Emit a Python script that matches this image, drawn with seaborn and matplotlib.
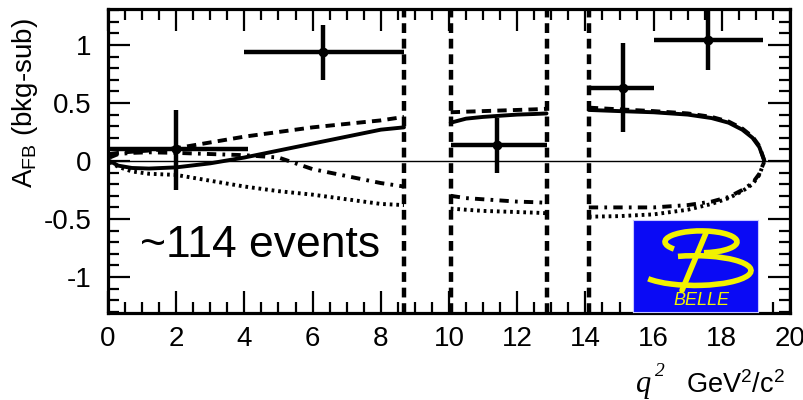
import numpy as np
import pandas as pd
import matplotlib
matplotlib.use('Agg')
import matplotlib.pyplot as plt
from matplotlib.patches import Arc
from matplotlib.ticker import MultipleLocator
import seaborn as sns

# ── data ──────────────────────────────────────────────────────
BIN_LO = [0.0, 4.0, 10.05, 14.1, 16.0]
BIN_HI = [4.1, 8.68, 12.86, 16.0, 19.2]
Q2_CENTER = [2.0, 6.3, 11.4, 15.1, 17.6]
AFB = [0.10, 0.94, 0.14, 0.63, 1.04]
ERR_UP = [0.34, 0.23, 0.23, 0.39, 0.41]
ERR_DN = [0.35, 0.24, 0.24, 0.38, 0.26]

VETO_EDGES = [8.68, 10.05, 12.86, 14.1]

Q_SEG1 = [0.05, 0.3, 0.7, 1.2, 2.0, 3.0, 4.0, 5.0, 6.0, 7.0, 8.0, 8.68]
Q_SEG2 = [10.05, 10.5, 11.0, 11.5, 12.0, 12.5, 12.86]
Q_SEG3 = [14.1, 15.0, 16.0, 17.0, 17.7, 18.2, 18.6, 18.9, 19.1, 19.25]

SM_1 = [0.0, -0.04, -0.06, -0.065, -0.055, -0.02, 0.03, 0.09, 0.15, 0.21, 0.27, 0.29]
SM_2 = [0.33, 0.365, 0.38, 0.39, 0.40, 0.405, 0.41]
SM_3 = [0.44, 0.43, 0.42, 0.40, 0.37, 0.33, 0.27, 0.20, 0.12, 0.0]

C7_1 = [0.06, 0.07, 0.08, 0.09, 0.11, 0.16, 0.21, 0.25, 0.29, 0.32, 0.35, 0.38]
C7_2 = [0.42, 0.425, 0.43, 0.435, 0.44, 0.445, 0.45]
C7_3 = [0.46, 0.445, 0.43, 0.41, 0.38, 0.34, 0.28, 0.21, 0.13, 0.0]

C9_1 = [0.03, 0.06, 0.07, 0.075, 0.07, 0.06, 0.05, 0.03, -0.07, -0.13, -0.19, -0.22]
C9_2 = [-0.30, -0.32, -0.33, -0.34, -0.35, -0.355, -0.36]
C9_3 = [-0.40, -0.40, -0.40, -0.38, -0.35, -0.31, -0.25, -0.19, -0.11, 0.0]

BOTH_1 = [-0.01, -0.05, -0.09, -0.11, -0.12, -0.17, -0.22, -0.26, -0.29, -0.33, -0.37, -0.38]
BOTH_2 = [-0.41, -0.42, -0.43, -0.435, -0.44, -0.445, -0.45]
BOTH_3 = [-0.48, -0.475, -0.46, -0.42, -0.37, -0.32, -0.26, -0.20, -0.12, 0.0]

MODELS = {
    'SM': (SM_1, SM_2, SM_3),
    'C7': (C7_1, C7_2, C7_3),
    'C9C10': (C9_1, C9_2, C9_3),
    'both': (BOTH_1, BOTH_2, BOTH_3),
}

rows = []
for name, segs in MODELS.items():
    for k, (qs, ys) in enumerate(zip((Q_SEG1, Q_SEG2, Q_SEG3), segs)):
        for q, y in zip(qs, ys):
            rows.append({'model': name, 'seg': k, 'q2': q, 'afb': y})
curves = pd.DataFrame(rows)

# ── plot ──────────────────────────────────────────────────────
sns.set_style('ticks')
plt.rcParams['font.family'] = ['Liberation Sans', 'DejaVu Sans']
plt.rcParams['mathtext.fontset'] = 'custom'
plt.rcParams['mathtext.rm'] = 'Liberation Sans'
for key in ['text.color', 'axes.labelcolor', 'xtick.color', 'ytick.color', 'axes.edgecolor']:
    plt.rcParams[key] = 'black'

fig = plt.figure(figsize=(8.04, 4.0), dpi=100)
ax = fig.add_axes([0.1343, 0.2175, 0.8483, 0.760])

dash_map = {'SM': '', 'C7': (2.4, 1.6), 'C9C10': (2.4, 1.6, 0.7, 1.6), 'both': (0.7, 1.0)}
sns.lineplot(data=curves, x='q2', y='afb', style='model', dashes=dash_map,
             units='seg', estimator=None, color='black', lw=2.8,
             legend=False, ax=ax, sort=False)

ax.axhline(0, color='black', lw=1.0, zorder=1)
for q in VETO_EDGES:
    ax.axvline(q, color='black', lw=3.2, dashes=(2.2, 1.3), zorder=3)

xerr = [np.subtract(Q2_CENTER, BIN_LO), np.subtract(BIN_HI, Q2_CENTER)]
ax.errorbar(Q2_CENTER, AFB, xerr=xerr, yerr=[ERR_DN, ERR_UP], fmt='o', color='black',
            ms=6, elinewidth=3.2, capsize=0, zorder=4)

ax.text(0.94, -0.83, '~114 events', fontsize=32, va='baseline')

ax.set_xlim(0, 20)
ax.set_ylim(-1.31, 1.31)
ax.xaxis.set_major_locator(MultipleLocator(2))
ax.xaxis.set_minor_locator(MultipleLocator(0.5))
ax.yaxis.set_minor_locator(MultipleLocator(0.1))
ax.set_yticks([-1, -0.5, 0, 0.5, 1])
ax.set_yticklabels(['-1', '-0.5', '0', '0.5', '1'])
ax.tick_params(which='both', direction='in', top=True, right=True, width=1.6,
               labelsize=20, colors='black')
ax.tick_params(which='major', length=16)
ax.tick_params(which='minor', length=8)
ax.tick_params(axis='x', pad=9)
ax.tick_params(axis='y', pad=12)
ax.set_xlabel('')
ax.set_ylabel('')
for s in ax.spines.values():
    s.set_linewidth(2.3)
    s.set_edgecolor('black')

fig.text(0.031, 0.742, r'$\mathregular{A_{FB}}$ (bkg-sub)', rotation=90,
         ha='center', va='center', fontsize=20)
fig.text(0.791, 0.02, 'q', family='Liberation Serif', style='italic', fontsize=22,
         va='baseline')
fig.text(0.815, 0.06, '2', family='Liberation Serif', style='italic', fontsize=14,
         va='baseline')
fig.text(0.853, 0.0175, r'$\mathregular{GeV^2/c^2}$', fontsize=19.5, va='baseline')

# Belle logo
lg = fig.add_axes([0.7873, 0.2195, 0.1555, 0.2305])
lg.set_facecolor('#0a0af5')
lg.set_xlim(0, 125)
lg.set_ylim(0, 93)
lg.set_xticks([])
lg.set_yticks([])
for s in lg.spines.values():
    s.set_edgecolor('#c8c8ff')
    s.set_linewidth(0.8)
yel = '#f2f200'
lg.add_patch(Arc((62, 42), 112, 30, theta1=190, theta2=140, color=yel, lw=4))
lg.add_patch(Arc((68, 71), 72, 22, theta1=-75, theta2=195, color=yel, lw=4))
lg.plot([73, 49], [80, 22], color=yel, lw=4, solid_capstyle='round')
lg.text(68, 12, 'BELLE', color=yel, style='italic', fontsize=13, ha='center', va='center')

fig.savefig('out.png', dpi=100)
